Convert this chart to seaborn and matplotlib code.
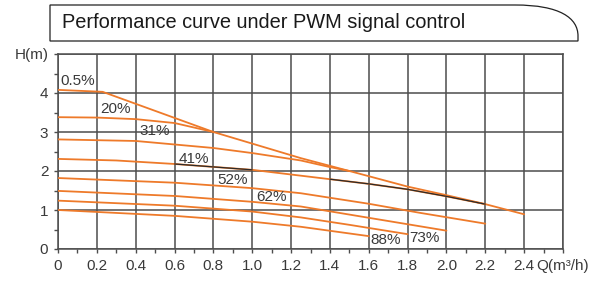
import matplotlib
matplotlib.use("Agg")
import matplotlib.pyplot as plt
from matplotlib.path import Path
from matplotlib.patches import PathPatch
from matplotlib.ticker import MultipleLocator
import pandas as pd
import seaborn as sns

# pump curves: Q in m3/h, H in m
q_05 = [0, 0.23, 0.8, 1.25, 1.5, 1.8, 2.0, 2.2, 2.4]
h_05 = [4.08, 4.03, 3.0, 2.33, 2.0, 1.6, 1.38, 1.15, 0.89]
q_20 = [0, 0.2, 0.4, 0.6, 0.8]
h_20 = [3.38, 3.37, 3.33, 3.23, 3.0]
q_31 = [0, 0.4, 0.8, 1.0, 1.25, 1.4, 1.5]
h_31 = [2.81, 2.77, 2.59, 2.46, 2.27, 2.1, 2.0]
q_41 = [0, 0.3, 0.6, 1.0, 1.4, 1.6, 1.8, 2.0, 2.2]
h_41 = [2.31, 2.27, 2.18, 2.03, 1.79, 1.67, 1.53, 1.35, 1.15]
q_52 = [0, 0.6, 1.0, 1.25, 1.6, 1.86, 2.2]
h_52 = [1.82, 1.70, 1.56, 1.43, 1.16, 0.93, 0.65]
q_62 = [0, 0.6, 1.0, 1.25, 1.6, 2.0]
h_62 = [1.49, 1.36, 1.21, 1.09, 0.80, 0.47]
q_73 = [0, 0.6, 1.0, 1.25, 1.5, 1.8]
h_73 = [1.24, 1.11, 0.96, 0.81, 0.62, 0.38]
q_88 = [0, 0.6, 1.0, 1.25, 1.6]
h_88 = [1.0, 0.85, 0.70, 0.57, 0.33]

# dark pieces lying on the 41% curve
q_dark_a = [0.6, 1.0]
h_dark_a = [2.18, 2.03]
q_dark_b = [1.4, 1.6, 1.8, 2.0, 2.2]
h_dark_b = [1.79, 1.67, 1.53, 1.35, 1.15]

curve_names = ["0.5%", "20%", "31%", "41%", "52%", "62%", "73%", "88%"]
curve_q = [q_05, q_20, q_31, q_41, q_52, q_62, q_73, q_88]
curve_h = [h_05, h_20, h_31, h_41, h_52, h_62, h_73, h_88]

x_ticks = [0, 0.2, 0.4, 0.6, 0.8, 1.0, 1.2, 1.4, 1.6, 1.8, 2.0, 2.2, 2.4, 2.6]
x_labels = ["0", "0.2", "0.4", "0.6", "0.8", "1.0", "1.2", "1.4", "1.6",
            "1.8", "2.0", "2.2", "2.4", "Q(m³/h)"]
y_ticks = [0, 1, 2, 3, 4, 5]
y_labels = ["0", "1", "2", "3", "4", "H(m)"]

title = "Performance curve under PWM signal control"

rows = []
for name, qs, hs in zip(curve_names, curve_q, curve_h):
    for q, h in zip(qs, hs):
        rows.append({"pwm": name, "Q": q, "H": h})
df = pd.DataFrame(rows)

sns.set_theme(style="white")
plt.rcParams["font.family"] = ["Liberation Sans", "DejaVu Sans"]

orange = "#ee7a2a"
grid_col = "#4d4d4d"
txt_col = "#3a3a3a"

W, H = 603, 281
fig = plt.figure(figsize=(W / 100, H / 100), dpi=100)
ax = fig.add_axes([58 / W, 1 - 249 / H, (563 - 58) / W, (249 - 54) / H])

sns.lineplot(data=df, x="Q", y="H", hue="pwm", units="pwm", estimator=None,
             sort=False, palette=[orange] * len(curve_names), legend=False,
             lw=1.3, ax=ax, zorder=3)
ax.plot(q_dark_a, h_dark_a, color="#2b2b2b", lw=0.9, zorder=4)
ax.plot(q_dark_b, h_dark_b, color="#2b2b2b", lw=0.9, zorder=4)

ax.set_xlim(0, 2.6)
ax.set_ylim(0, 5)
ax.set_xticks(x_ticks)
ax.set_xticklabels(x_labels)
ax.set_yticks(y_ticks)
ax.set_yticklabels(y_labels)
ax.xaxis.set_minor_locator(MultipleLocator(0.1))
ax.yaxis.set_minor_locator(MultipleLocator(0.5))
ax.tick_params(which="both", direction="out", length=3, width=1.0,
               color=grid_col, labelsize=11, labelcolor=txt_col, pad=4,
               bottom=True, left=True)
ax.grid(True, which="major", color=grid_col, lw=1.1)
for s in ax.spines.values():
    s.set_color(grid_col)
    s.set_linewidth(1.1)
ax.set_xlabel("")
ax.set_ylabel("")

# curve labels
label_pos = [(0.01, 4.12), (0.22, 3.40), (0.42, 2.85), (0.62, 2.13),
             (0.82, 1.59), (1.02, 1.15), (1.81, 0.10), (1.61, 0.05)]
for name, (x, y) in zip(curve_names, label_pos):
    ax.text(x, y, name, fontsize=11, color=txt_col, ha="left", va="bottom",
            zorder=5)

# title box with rounded top-right corner
def fx(px):
    return px / W

def fy(py):
    return 1 - py / H

verts = [(fx(50), fy(41)), (fx(50), fy(5)), (fx(515), fy(5)),
         (fx(560), fy(5)), (fx(578), fy(18)), (fx(578), fy(36)),
         (fx(578), fy(41)), (fx(50), fy(41))]
codes = [Path.MOVETO, Path.LINETO, Path.LINETO,
         Path.CURVE4, Path.CURVE4, Path.CURVE4,
         Path.LINETO, Path.CLOSEPOLY]
box = PathPatch(Path(verts, codes), transform=fig.transFigure,
                facecolor="white", edgecolor="#222222", lw=0.9)
fig.patches.append(box)
fig.text(fx(62), fy(23), title, fontsize=14.4, color="#1a1a1a",
         ha="left", va="center")

fig.savefig("out.png", dpi=100)
